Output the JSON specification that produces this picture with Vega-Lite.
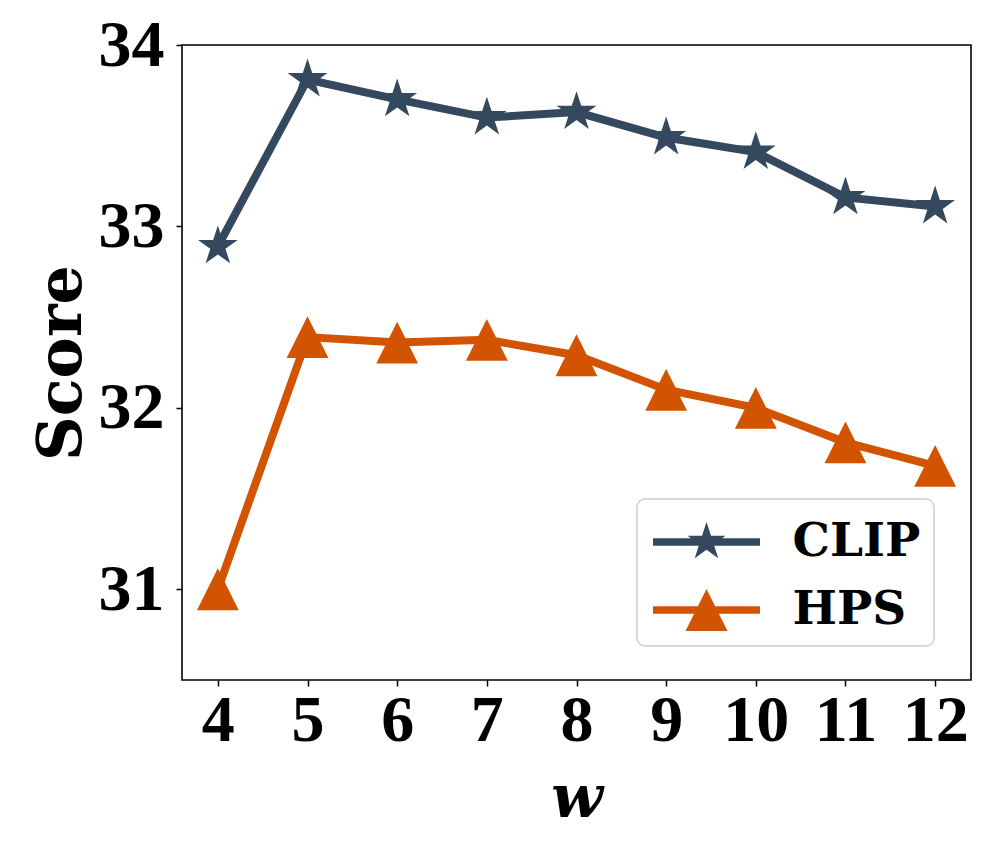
{
  "$schema": "https://vega.github.io/schema/vega-lite/v6.json",
  "width": 789,
  "height": 635,
  "autosize": {"type": "none"},
  "padding": {"left": 182, "top": 45, "right": 26, "bottom": 174},
  "background": "white",
  "config": {
    "view": {"stroke": "black", "strokeWidth": 1.6},
    "axis": {
      "domain": false,
      "grid": false,
      "ticks": true,
      "tickSize": 6,
      "tickWidth": 1.5,
      "tickColor": "black",
      "labelFont": "Liberation Serif",
      "labelFontWeight": "bold",
      "labelFontSize": 66,
      "labelColor": "black",
      "labelOverlap": false,
      "labelFlush": false,
      "titleColor": "black",
      "titleFont": "DejaVu Serif",
      "titleFontWeight": "bold"
    },
    "legend": {
      "title": null,
      "orient": "none",
      "legendX": 455,
      "legendY": 454,
      "padding": 13,
      "rowPadding": 15,
      "symbolSize": 3600,
      "symbolOpacity": 1,
      "symbolStrokeWidth": 0,
      "symbolOffset": 26.5,
      "labelOffset": 56,
      "labelFont": "DejaVu Serif",
      "labelFontWeight": "bold",
      "labelFontSize": 47,
      "labelColor": "black",
      "labelLimit": 400,
      "strokeColor": "#d9d9d9",
      "fillColor": "white",
      "cornerRadius": 8,
      "strokeWidth": 2
    }
  },
  "data": {
    "values": [
      {"w": 4, "series": "CLIP", "score": 32.89},
      {"w": 5, "series": "CLIP", "score": 33.81},
      {"w": 6, "series": "CLIP", "score": 33.70},
      {"w": 7, "series": "CLIP", "score": 33.60},
      {"w": 8, "series": "CLIP", "score": 33.63},
      {"w": 9, "series": "CLIP", "score": 33.49},
      {"w": 10, "series": "CLIP", "score": 33.41},
      {"w": 11, "series": "CLIP", "score": 33.16},
      {"w": 12, "series": "CLIP", "score": 33.11},
      {"w": 4, "series": "HPS", "score": 31.00},
      {"w": 5, "series": "HPS", "score": 32.39},
      {"w": 6, "series": "HPS", "score": 32.36},
      {"w": 7, "series": "HPS", "score": 32.375},
      {"w": 8, "series": "HPS", "score": 32.29},
      {"w": 9, "series": "HPS", "score": 32.10},
      {"w": 10, "series": "HPS", "score": 32.00},
      {"w": 11, "series": "HPS", "score": 31.81},
      {"w": 12, "series": "HPS", "score": 31.68}
    ]
  },
  "encoding": {
    "x": {
      "field": "w",
      "type": "quantitative",
      "scale": {"domain": [3.6, 12.4], "nice": false, "zero": false},
      "axis": {
        "values": [4, 5, 6, 7, 8, 9, 10, 11, 12],
        "format": "d",
        "labelPadding": 2,
        "title": "w",
        "titleFontSize": 60,
        "titleFontStyle": "italic",
        "titlePadding": 16
      }
    },
    "y": {
      "field": "score",
      "type": "quantitative",
      "scale": {"domain": [30.5, 34], "nice": false, "zero": false},
      "axis": {
        "values": [31, 32, 33, 34],
        "format": "d",
        "labelPadding": 12,
        "title": "Score",
        "titleFontSize": 62,
        "titlePadding": 5
      }
    }
  },
  "layer": [
    {
      "mark": {"type": "line", "strokeWidth": 8},
      "encoding": {
        "color": {
          "field": "series",
          "type": "nominal",
          "scale": {"domain": ["CLIP", "HPS"], "range": ["#34495e", "#d35400"]},
          "legend": null
        }
      }
    },
    {
      "mark": {"type": "point", "filled": true, "opacity": 1, "strokeWidth": 0},
      "encoding": {
        "color": {
          "field": "series",
          "type": "nominal",
          "scale": {"domain": ["CLIP", "HPS"], "range": ["#34495e", "#d35400"]},
          "legend": null
        },
        "shape": {
          "field": "series",
          "type": "nominal",
          "scale": {
            "domain": ["CLIP", "HPS"],
            "range": [
              "M0,-1L0.225,-0.309L0.951,-0.309L0.363,0.118L0.588,0.809L0,0.382L-0.588,0.809L-0.363,0.118L-0.951,-0.309L-0.225,-0.309Z",
              "M0,-1L1,1L-1,1Z"
            ]
          },
          "legend": null
        },
        "size": {"value": 1750}
      }
    },
    {
      "mark": {"type": "point", "filled": true, "opacity": 0, "strokeWidth": 0},
      "encoding": {
        "color": {
          "field": "series",
          "type": "nominal",
          "scale": {"domain": ["CLIP", "HPS"], "range": ["#34495e", "#d35400"]}
        },
        "shape": {
          "field": "series",
          "type": "nominal",
          "scale": {
            "domain": ["CLIP", "HPS"],
            "range": [
              "M-1.783,-0.125H1.783V0.125H-1.783Z M0,-0.667L0.15,-0.206L0.634,-0.206L0.242,0.079L0.392,0.54L0,0.255L-0.392,0.54L-0.242,0.079L-0.634,-0.206L-0.15,-0.206Z",
              "M-1.783,-0.125H1.783V0.125H-1.783Z M0,-0.7L0.7,0.7L-0.7,0.7Z"
            ]
          }
        },
        "size": {"value": 10}
      }
    }
  ],
  "resolve": {
    "scale": {"color": "independent", "shape": "independent"},
    "legend": {"color": "independent", "shape": "independent"}
  }
}
